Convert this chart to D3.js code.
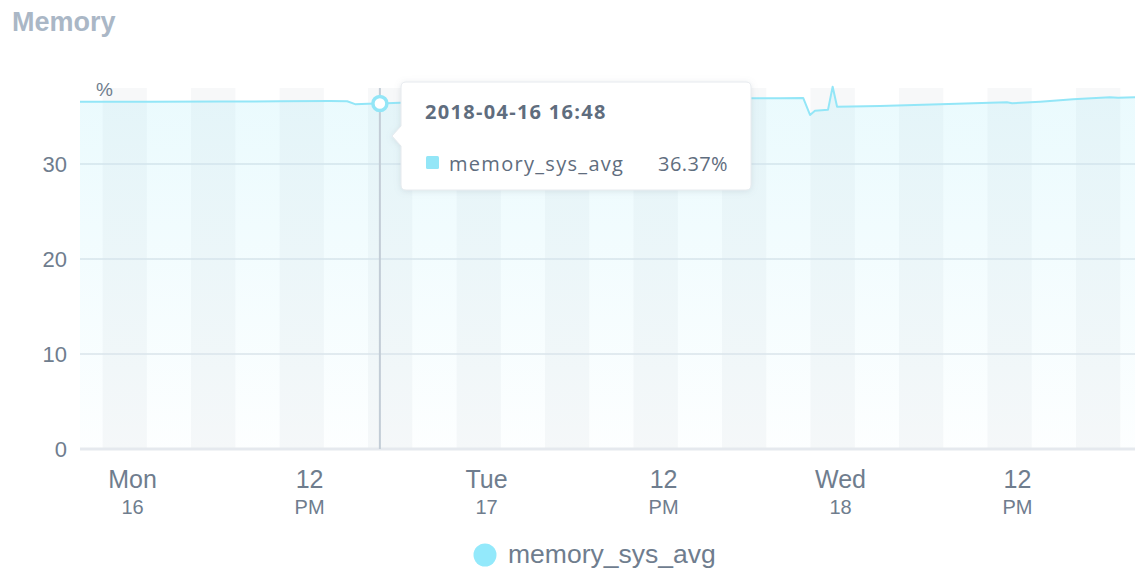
<!DOCTYPE html>
<html>
<head>
<meta charset="utf-8">
<script src="https://cdn.jsdelivr.net/npm/d3@7"></script>
<style>
  html, body { margin: 0; padding: 0; background: #ffffff; }
  svg { display: block; }
</style>
</head>
<body>
<svg id="chart" width="1135" height="569"></svg>
<script>
// ---- data ----
const seriesName = "memory_sys_avg";
const times = [
  "2018-04-15T20:28","2018-04-16T01:13","2018-04-16T05:58","2018-04-16T10:02",
  "2018-04-16T13:25","2018-04-16T14:35","2018-04-16T15:07","2018-04-16T16:00",
  "2018-04-16T16:48","2018-04-16T18:10","2018-04-17T00:57","2018-04-17T07:44",
  "2018-04-17T14:30","2018-04-17T17:58","2018-04-17T19:56","2018-04-17T21:30",
  "2018-04-17T21:58","2018-04-17T22:18","2018-04-17T23:11","2018-04-17T23:30",
  "2018-04-17T23:48","2018-04-18T02:43","2018-04-18T06:47","2018-04-18T11:19",
  "2018-04-18T11:40","2018-04-18T13:34","2018-04-18T15:48","2018-04-18T18:18",
  "2018-04-18T18:51","2018-04-18T20:00"
];
const values = [
  36.55, 36.56, 36.58, 36.60,
  36.62, 36.60, 36.30, 36.33,
  36.37, 36.45, 36.60, 36.75,
  36.85, 36.92, 36.93, 36.95,
  35.16, 35.60, 35.70, 38.14,
  36.03, 36.10, 36.28, 36.49,
  36.39, 36.55, 36.81, 37.02,
  36.97, 37.02
];
const yTicks = [0, 10, 20, 30];
const xTickTimes = ["2018-04-16T00:00","2018-04-16T12:00","2018-04-17T00:00","2018-04-17T12:00","2018-04-18T00:00","2018-04-18T12:00"];
const xTickLine1 = ["Mon","12","Tue","12","Wed","12"];
const xTickLine2 = ["16","PM","17","PM","18","PM"];
const hoverTime = "2018-04-16T16:48";
const hoverLabel = "2018-04-16 16:48";
const hoverValue = 36.37;
const xDomain = ["2018-04-15T20:28","2018-04-18T20:00"];
const yDomain = [0, 38];
const stripeFirst = "2018-04-15T22:00";

// ---- setup ----
const parse = d3.timeParse("%Y-%m-%dT%H:%M");
const data = times.map((t, i) => ({ t: parse(t), v: values[i] }));
const svg = d3.select("#chart");
const L = 80, R = 1135, T = 88, B = 449;

const x = d3.scaleTime().domain(xDomain.map(parse)).range([L, R]);
const y = d3.scaleLinear().domain(yDomain).range([B, T]);

const defs = svg.append("defs");
const grad = defs.append("linearGradient").attr("id", "areaGrad")
  .attr("x1", 0).attr("y1", 0).attr("x2", 0).attr("y2", 1);
grad.append("stop").attr("offset", "0%").attr("stop-color", "#8fe6f7").attr("stop-opacity", 0.19);
grad.append("stop").attr("offset", "100%").attr("stop-color", "#8fe6f7").attr("stop-opacity", 0.02);
const shadow = defs.append("filter").attr("id", "shadow").attr("x", "-10%").attr("y", "-20%").attr("width", "130%").attr("height", "150%");
shadow.append("feDropShadow").attr("dx", 0).attr("dy", 1).attr("stdDeviation", 3)
  .attr("flood-color", "#7a8899").attr("flood-opacity", 0.2);
defs.append("clipPath").attr("id", "plotClip").append("rect")
  .attr("x", L).attr("y", T).attr("width", R - L).attr("height", B - T);

// title
svg.append("text").attr("x", 12).attr("y", 31)
  .attr("font-family", "'Liberation Sans', Arial, sans-serif")
  .attr("font-size", 27).attr("font-weight", 700).attr("fill", "#aab7c6")
  .text("Memory");

// background stripes (3h bands every 6h)
const stripeStarts = [];
for (let d = parse(stripeFirst); d < x.domain()[1]; d = d3.timeHour.offset(d, 6)) stripeStarts.push(d);
svg.append("g").attr("clip-path", "url(#plotClip)")
  .selectAll("rect").data(stripeStarts).join("rect")
  .attr("x", d => x(d))
  .attr("width", d => x(d3.timeHour.offset(d, 3)) - x(d))
  .attr("y", T).attr("height", B - T)
  .attr("fill", "#2a4050").attr("fill-opacity", 0.035);

// gridlines
svg.append("g").selectAll("line").data(yTicks.filter(d => d > 0)).join("line")
  .attr("x1", L).attr("x2", R).attr("y1", d => y(d)).attr("y2", d => y(d))
  .attr("stroke", "#dfe5ea").attr("stroke-width", 1.5);

// area + line
const area = d3.area().x(d => x(d.t)).y0(y(0)).y1(d => y(d.v));
const line = d3.line().x(d => x(d.t)).y(d => y(d.v));
svg.append("path").datum(data).attr("d", area).attr("fill", "url(#areaGrad)");
svg.append("path").datum(data).attr("d", line).attr("fill", "none")
  .attr("stroke", "#93e6f7").attr("stroke-width", 2).attr("stroke-linejoin", "round");

// baseline
svg.append("line").attr("x1", L).attr("x2", R).attr("y1", y(0)).attr("y2", y(0))
  .attr("stroke", "#e5e9ee").attr("stroke-width", 3);

// y axis
const yAxis = svg.append("g").attr("transform", `translate(${L - 13},0)`)
  .call(d3.axisLeft(y).tickValues(yTicks).tickSize(0).tickPadding(0));
yAxis.select(".domain").remove();
yAxis.selectAll("text")
  .attr("font-family", "'Liberation Sans', Arial, sans-serif")
  .attr("font-size", 22).attr("fill", "#6f7d8e").attr("dy", "0.36em");
svg.append("text").attr("x", 96).attr("y", 96)
  .attr("font-family", "'Liberation Sans', Arial, sans-serif")
  .attr("font-size", 19).attr("fill", "#6f7d8e").text("%");

// x axis
const xTicks = xTickTimes.map(parse);
const xAxis = svg.append("g").attr("transform", `translate(0,${B})`)
  .call(d3.axisBottom(x).tickValues(xTicks).tickSize(0).tickFormat(""));
xAxis.select(".domain").remove();
xAxis.selectAll(".tick text").remove();
xAxis.selectAll(".tick").each(function(d, i) {
  const g = d3.select(this);
  g.append("text").attr("y", 39).attr("text-anchor", "middle")
    .attr("font-family", "'Liberation Sans', Arial, sans-serif")
    .attr("font-size", 25).attr("fill", "#6f7d8e").text(xTickLine1[i]);
  g.append("text").attr("y", 65).attr("text-anchor", "middle")
    .attr("font-family", "'Liberation Sans', Arial, sans-serif")
    .attr("font-size", 20).attr("fill", "#6f7d8e").text(xTickLine2[i]);
});

// crosshair + point
const hx = x(parse(hoverTime)), hy = y(hoverValue);
svg.append("line").attr("x1", hx).attr("x2", hx).attr("y1", T).attr("y2", B)
  .attr("stroke", "#c2ccd6").attr("stroke-width", 2);
svg.append("circle").attr("cx", hx).attr("cy", hy).attr("r", 7)
  .attr("fill", "#ffffff").attr("stroke", "#93e6f7").attr("stroke-width", 3.5);

// tooltip
const tx = 401, ty = 82, tw = 350, th = 108;
const tip = svg.append("g");
tip.append("path")
  .attr("d", `M${tx + 5},${ty} H${tx + tw - 5} Q${tx + tw},${ty} ${tx + tw},${ty + 5} V${ty + th - 5} Q${tx + tw},${ty + th} ${tx + tw - 5},${ty + th} H${tx + 5} Q${tx},${ty + th} ${tx},${ty + th - 5} V${ty + 64} L${tx - 9},${ty + 54} L${tx},${ty + 44} V${ty + 5} Q${tx},${ty} ${tx + 5},${ty} Z`)
  .attr("fill", "#ffffff").attr("stroke", "#e6eaee").attr("stroke-width", 1)
  .attr("filter", "url(#shadow)");
tip.append("text").attr("x", tx + 24).attr("y", ty + 37)
  .attr("font-family", "'Open Sans', sans-serif").attr("font-weight", 700)
  .attr("font-size", 20).attr("letter-spacing", 1.3).attr("fill", "#5f6d7e").text(hoverLabel);
tip.append("rect").attr("x", tx + 25).attr("y", ty + 74).attr("width", 13).attr("height", 13)
  .attr("rx", 1.5).attr("fill", "#93e6f7");
tip.append("text").attr("x", tx + 48).attr("y", ty + 89)
  .attr("font-family", "'Open Sans', sans-serif")
  .attr("font-size", 20).attr("letter-spacing", 1.3).attr("fill", "#5f6d7e").text(seriesName);
tip.append("text").attr("x", tx + 327).attr("y", ty + 89).attr("text-anchor", "end")
  .attr("font-family", "'Open Sans', sans-serif")
  .attr("font-size", 20).attr("letter-spacing", 0.4).attr("fill", "#5f6d7e").text(hoverValue.toFixed(2) + "%");

// legend
svg.append("circle").attr("cx", 485).attr("cy", 555).attr("r", 11.5).attr("fill", "#93e9fb");
svg.append("text").attr("x", 508).attr("y", 563)
  .attr("font-family", "'Liberation Sans', Arial, sans-serif")
  .attr("font-size", 26.5).attr("fill", "#6f7d8e").text(seriesName);
</script>
</body>
</html>
